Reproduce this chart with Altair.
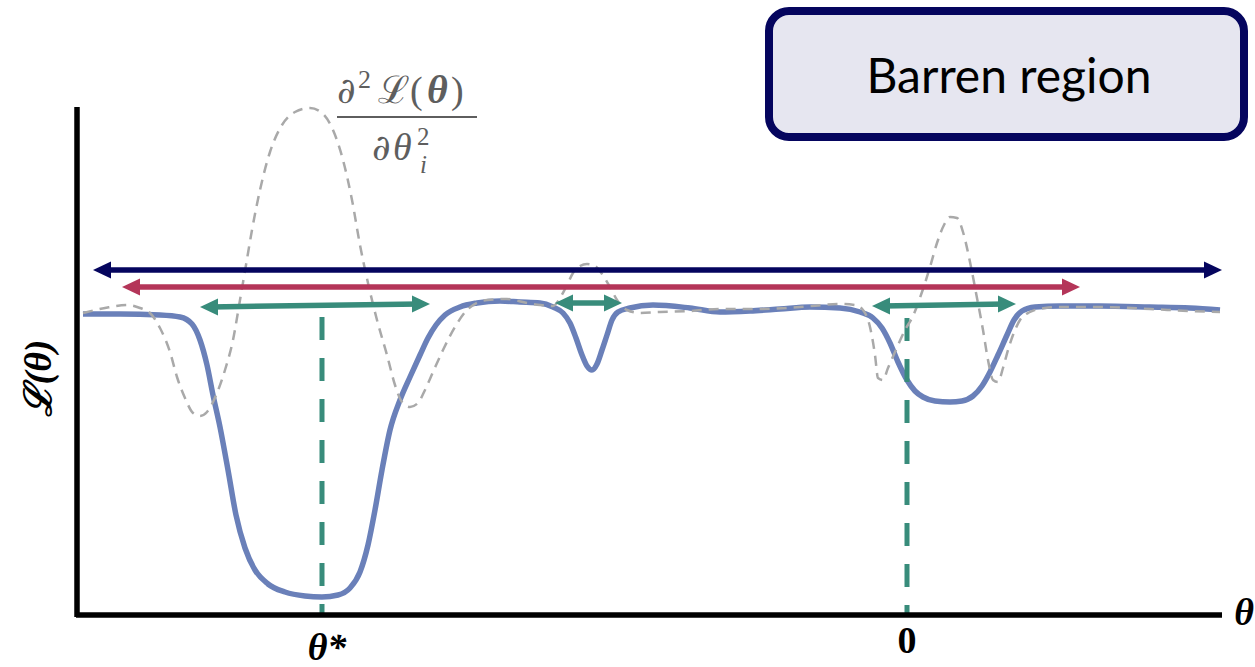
import altair as alt
import pandas as pd

# palette
NAVY = "#05055e"
CRIMSON = "#b43559"
GREEN = "#388c7b"
BLUE = "#6a80b9"
GREY = "#a9a9a9"
FORMULA_GREY = "#5e5e5e"
BOX_FILL = "#e6e6f0"
SERIF = "Liberation Serif"

WIDTH, HEIGHT = 1255, 667
THETA_DOMAIN = [-77, 1178]
LOSS_DOMAIN = [-52, 615]

# loss landscape L(theta): wide minimum at theta*, narrow dip, shallow basin near 0
loss_theta = [6, 43, 83, 103, 115, 123, 130, 136, 143, 151, 159, 168, 178, 191, 208,
              228, 245, 261, 273, 283, 291, 298, 305, 313, 323, 333, 343, 351, 359, 368,
              383, 400, 423, 443, 463, 476, 486, 493, 499, 505, 510, 515, 520, 525, 530,
              535, 541, 553, 576, 613, 643, 673, 703, 733, 763, 783, 796, 805, 813, 821,
              830, 838, 846, 858, 873, 885, 896, 905, 913, 921, 930, 937, 945, 958, 983,
              1023, 1073, 1113, 1143]
loss_value = [301, 301, 300, 298, 291, 275, 250, 220, 188, 145, 100, 67, 45, 31, 23,
              19, 18, 20, 27, 43, 70, 105, 145, 185, 215, 238, 260, 277, 290, 300,
              308, 312, 314, 313, 312, 308, 302, 292, 277, 260, 249, 245, 251, 265, 280,
              295, 303, 307, 310, 307, 303, 304, 306, 308, 307, 303, 297, 287, 272, 253,
              235, 224, 218, 214, 213, 214, 219, 229, 243, 260, 280, 295, 304, 308, 309,
              309, 308, 307, 305]

# curvature d2L/dtheta_i^2 (sketch)
curv_theta = [6, 28, 50, 63, 73, 83, 93, 100, 108, 116, 123, 130, 140, 148, 156,
              163, 169, 175, 183, 193, 205, 218, 233, 245, 256, 266, 275, 283, 291, 300,
              310, 318, 325, 333, 341, 348, 356, 366, 378, 390, 410, 430, 450, 463, 476,
              483, 490, 496, 503, 510, 518, 525, 533, 540, 550, 563, 583, 613, 643, 683,
              723, 763, 778, 786, 793, 798, 801, 806, 811, 818, 828, 836, 845, 853, 860,
              867, 873, 880, 886, 893, 900, 906, 911, 916, 921, 926, 931, 936, 943, 953,
              968, 983, 1023, 1073, 1113, 1143]
curv_value = [302, 307, 310, 307, 302, 287, 263, 238, 217, 202, 199, 203, 222, 245, 275,
              315, 350, 385, 425, 463, 490, 503, 507, 502, 485, 455, 415, 370, 332, 295,
              260, 230, 213, 208, 212, 225, 243, 265, 288, 305, 315, 316, 312, 310, 309,
              317, 330, 342, 349, 351, 349, 341, 328, 315, 305, 302, 303, 304, 306, 306,
              308, 311, 310, 305, 288, 260, 237, 235, 247, 263, 285, 299, 323, 348, 372,
              390, 398, 397, 383, 353, 317, 285, 255, 235, 233, 247, 265, 280, 295, 303,
              307, 308, 308, 306, 304, 303]

# double-headed range arrows, widest first
arrow_start = [16, 45, 123, 478, 795]
arrow_end = [1145, 1003, 353, 545, 939]
arrow_level_start = [345, 328, 308, 312, 309]
arrow_level_end = [345, 328, 311, 312, 311]
arrow_colour = [NAVY, CRIMSON, GREEN, GREEN, GREEN]

# minima marked on the theta axis
marker_theta = [245, 830]
marker_top = [298, 297]

# axis extents
axis_theta_end = 1145
axis_loss_end = 508

# legend box corners
box_theta = [692, 1167]
box_level = [478, 604]


def xq(field):
    return alt.X(f"{field}:Q", scale=alt.Scale(domain=THETA_DOMAIN, nice=False, zero=False), axis=None)


def yq(field):
    return alt.Y(f"{field}:Q", scale=alt.Scale(domain=LOSS_DOMAIN, nice=False, zero=False), axis=None)


def note(text, theta, level, **style):
    style.setdefault("baseline", "alphabetic")
    frame = pd.DataFrame({"theta": [theta], "level": [level], "text": [text]})
    return alt.Chart(frame).mark_text(**style).encode(x=xq("theta"), y=yq("level"), text="text:N")


loss_df = pd.DataFrame({"theta": loss_theta, "loss": loss_value})
curv_df = pd.DataFrame({"theta": curv_theta, "curv": curv_value})

arrows = pd.DataFrame({
    "t0": arrow_start, "t1": arrow_end,
    "l0": arrow_level_start, "l1": arrow_level_end,
    "colour": arrow_colour,
})
# shafts stop just short of the tips so the heads stay sharp
arrows["s0"] = arrows["t0"] + 10
arrows["s1"] = arrows["t1"] - 10

markers = pd.DataFrame({"theta": marker_theta, "top": marker_top, "base": 0})

box = alt.Chart(pd.DataFrame({"t0": [box_theta[0]], "t1": [box_theta[1]],
                              "l0": [box_level[0]], "l1": [box_level[1]]})).mark_rect(
    cornerRadius=20, fill=BOX_FILL, stroke=NAVY, strokeWidth=8
).encode(x=xq("t0"), x2="t1:Q", y=yq("l0"), y2="l1:Q")

loss_line = alt.Chart(loss_df).mark_line(
    color=BLUE, strokeWidth=5.5, interpolate="monotone"
).encode(x=xq("theta"), y=yq("loss"))

curv_line = alt.Chart(curv_df).mark_line(
    color=GREY, strokeWidth=2.5, strokeDash=[10, 7], interpolate="monotone"
).encode(x=xq("theta"), y=yq("curv"))

marker_rules = alt.Chart(markers).mark_rule(
    color=GREEN, strokeWidth=5, strokeDash=[23, 18]
).encode(x=xq("theta"), y=yq("top"), y2="base:Q")

shafts = alt.Chart(arrows).mark_rule(strokeWidth=5.5).encode(
    x=xq("s0"), x2="s1:Q", y=yq("l0"), y2="l1:Q",
    color=alt.Color("colour:N", scale=None),
)

right_heads = alt.Chart(arrows).mark_point(
    shape="M0,0L-1.8,-0.85L-1.8,0.85Z", filled=True, size=400, opacity=1, strokeWidth=0
).encode(x=xq("t1"), y=yq("l1"), color=alt.Color("colour:N", scale=None))

left_heads = alt.Chart(arrows).mark_point(
    shape="M0,0L1.8,-0.85L1.8,0.85Z", filled=True, size=400, opacity=1, strokeWidth=0
).encode(x=xq("t0"), y=yq("l0"), color=alt.Color("colour:N", scale=None))

axes_df = pd.DataFrame({"x0": [0, -1], "x1": [0, axis_theta_end],
                        "y0": [-2, 0], "y1": [axis_loss_end, 0]})
axes = alt.Chart(axes_df).mark_rule(color="black", strokeWidth=5.5).encode(
    x=xq("x0"), x2="x1:Q", y=yq("y0"), y2="y1:Q"
)

fraction_bar = alt.Chart(pd.DataFrame({"t0": [260], "t1": [400], "l": [498]})).mark_rule(
    color=FORMULA_GREY, strokeWidth=2
).encode(x=xq("t0"), x2="t1:Q", y=yq("l"))

formula = [
    fraction_bar,
    note("∂", 260, 512, font="DejaVu Serif", fontSize=36, color=FORMULA_GREY, align="left"),
    note("2", 281, 527, font=SERIF, fontSize=26, color=FORMULA_GREY, align="left"),
    note("ℒ(", 301, 512, font=SERIF, fontSize=38, color=FORMULA_GREY, align="left"),
    note("θ", 350, 512, font=SERIF, fontSize=40, color=FORMULA_GREY, align="left",
         fontStyle="italic", fontWeight="bold"),
    note(")", 374, 512, font=SERIF, fontSize=38, color=FORMULA_GREY, align="left"),
    note("∂", 295, 455, font="DejaVu Serif", fontSize=36, color=FORMULA_GREY, align="left"),
    note("θ", 316, 455, font=SERIF, fontSize=38, color=FORMULA_GREY, align="left", fontStyle="italic"),
    note("2", 340, 470, font=SERIF, fontSize=25, color=FORMULA_GREY, align="left"),
    note("i", 343, 442, font=SERIF, fontSize=25, color=FORMULA_GREY, align="left", fontStyle="italic"),
]

labels = [
    note("Barren region", 932, 522, font="Lato", fontSize=48, color="black", align="center"),
    note("θ", 1167, -10, font=SERIF, fontSize=38, color="black", align="center",
         fontStyle="italic", fontWeight="bold"),
    note("θ*", 250, -45, font=SERIF, fontSize=38, color="black", align="center",
         fontStyle="italic", fontWeight="bold"),
    note("0", 830, -38, font=SERIF, fontSize=38, color="black", align="center", fontWeight="bold"),
    note("ℒ(θ)", -37, 237, font=SERIF, fontSize=38, color="black", align="center",
         baseline="middle", angle=270, fontStyle="italic", fontWeight="bold"),
]

chart = alt.layer(
    box, loss_line, marker_rules, curv_line, shafts, right_heads, left_heads, axes,
    *formula, *labels,
).properties(
    width=WIDTH, height=HEIGHT, padding=0, autosize="none", background="white"
).configure_view(strokeOpacity=0)

chart.save("out.html", embed_options={"renderer": "svg", "actions": False})
